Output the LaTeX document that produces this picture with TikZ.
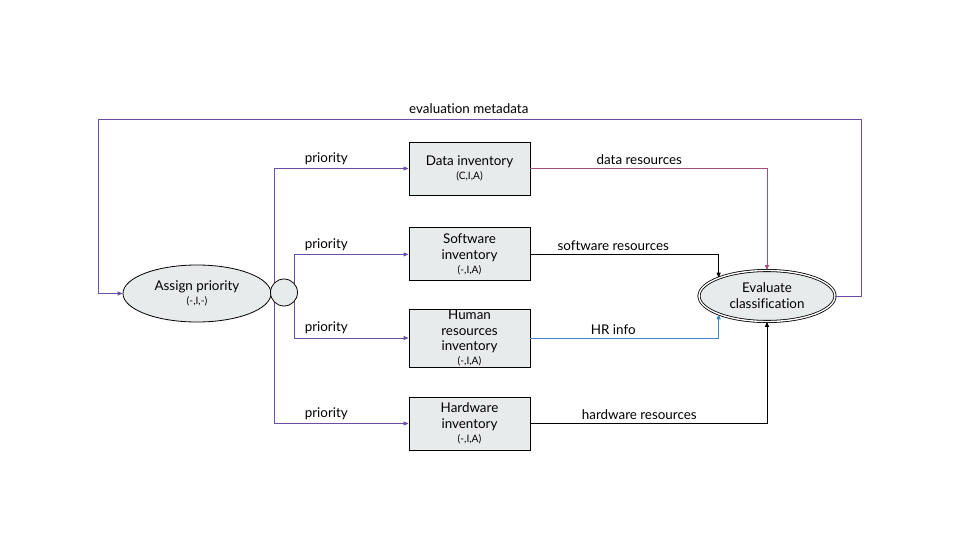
\documentclass[tikz,border=0pt]{standalone}
\usepackage{fontspec}
\setmainfont{Lato}[Ligatures=NoCommon]
\usepackage{xcolor}
\usepackage{tikz}
\usetikzlibrary{positioning, shapes.geometric, arrows.meta}

\definecolor{flowpurple}{HTML}{674EA7}
\definecolor{flowmagenta}{HTML}{A64D79}
\definecolor{flowblue}{HTML}{3D85C6}
\definecolor{boxgrey}{HTML}{E8EBEC}

\newcommand{\triad}[1]{\\[-1.5pt]{\fontsize{10.2}{12}\selectfont #1}}

\begin{document}
\begin{tikzpicture}[
    x=1pt, y=-1pt,
    font=\fontsize{13.4}{16}\selectfont,
    store/.style={rectangle, draw, fill=boxgrey, line width=0.9pt, align=center,
                  minimum width=121pt, minimum height=53pt, inner sep=0pt},
    proc/.style={ellipse, draw, fill=boxgrey, line width=0.8pt, align=center, inner sep=0pt},
    flow/.style={->, line width=0.8pt, draw=flowpurple},
    lbl/.style={inner sep=3.5pt},
    >={Triangle[length=5pt,width=4pt]}
]
\useasboundingbox (0,0) rectangle (960,540);

\node[store] (data) at (469.5,168.5) {Data inventory\triad{(C,I,A)}};
\node[store, below=32pt of data] (soft) {Software\\inventory\triad{(-,I,A)}};
\node[store, minimum height=58pt, font=\fontsize{13.4}{15.5}\selectfont] (human) at (469.5,338) {Human\\resources\\inventory\triad{(-,I,A)}};
\node[store] (hard) at (469.5,423.5) {Hardware\\inventory\triad{(-,I,A)}};

\node[proc, minimum width=148pt, minimum height=57pt] (assign) at (197,293.5) {Assign priority\triad{(-,I,-)}};
\node[proc, double, double distance=1.4pt, minimum width=136pt, minimum height=51pt] (eval) at (767,296) {Evaluate\\classification};

\coordinate (outer) at (274,293);
\coordinate (inner) at (294,293);
\coordinate (loopR) at (861,119);
\coordinate (loopL) at (98,119);

% priority out of the split
\draw[flow] (outer) |- node[lbl, anchor=south west, pos=0.6]{priority} (data.west);
\draw[flow] (inner) |- node[lbl, anchor=south west, pos=0.53]{priority} (soft.west);
\draw[flow] (inner) |- node[lbl, anchor=south west, pos=0.53]{priority} (human.west);
\draw[flow] (outer) |- node[lbl, anchor=south west, pos=0.6]{priority} (hard.west);

\node[circle, draw, fill=boxgrey, line width=0.8pt, minimum size=27pt, inner sep=0pt] (split) at (284,292.5) {};

% resources into the evaluation
\draw[flow, draw=flowmagenta] (data.east) -| node[lbl, above, pos=0.23]{data resources} (eval.north);
\draw[flow, draw=black] (soft.east) -| node[lbl, above, pos=0.22]{software resources} (eval.north west);
\draw[flow, draw=flowblue] (human.east) -| node[lbl, above, pos=0.22]{HR info} (eval.south west);
\draw[flow, draw=black] (hard.east) -| node[lbl, above, pos=0.23]{hardware resources} (eval.south);

\draw[flow] (eval.east) -| (loopR) -- node[lbl, above, pos=0.514, inner sep=4.5pt]{evaluation metadata} (loopL) |- (assign.west);

\end{tikzpicture}
\end{document}
